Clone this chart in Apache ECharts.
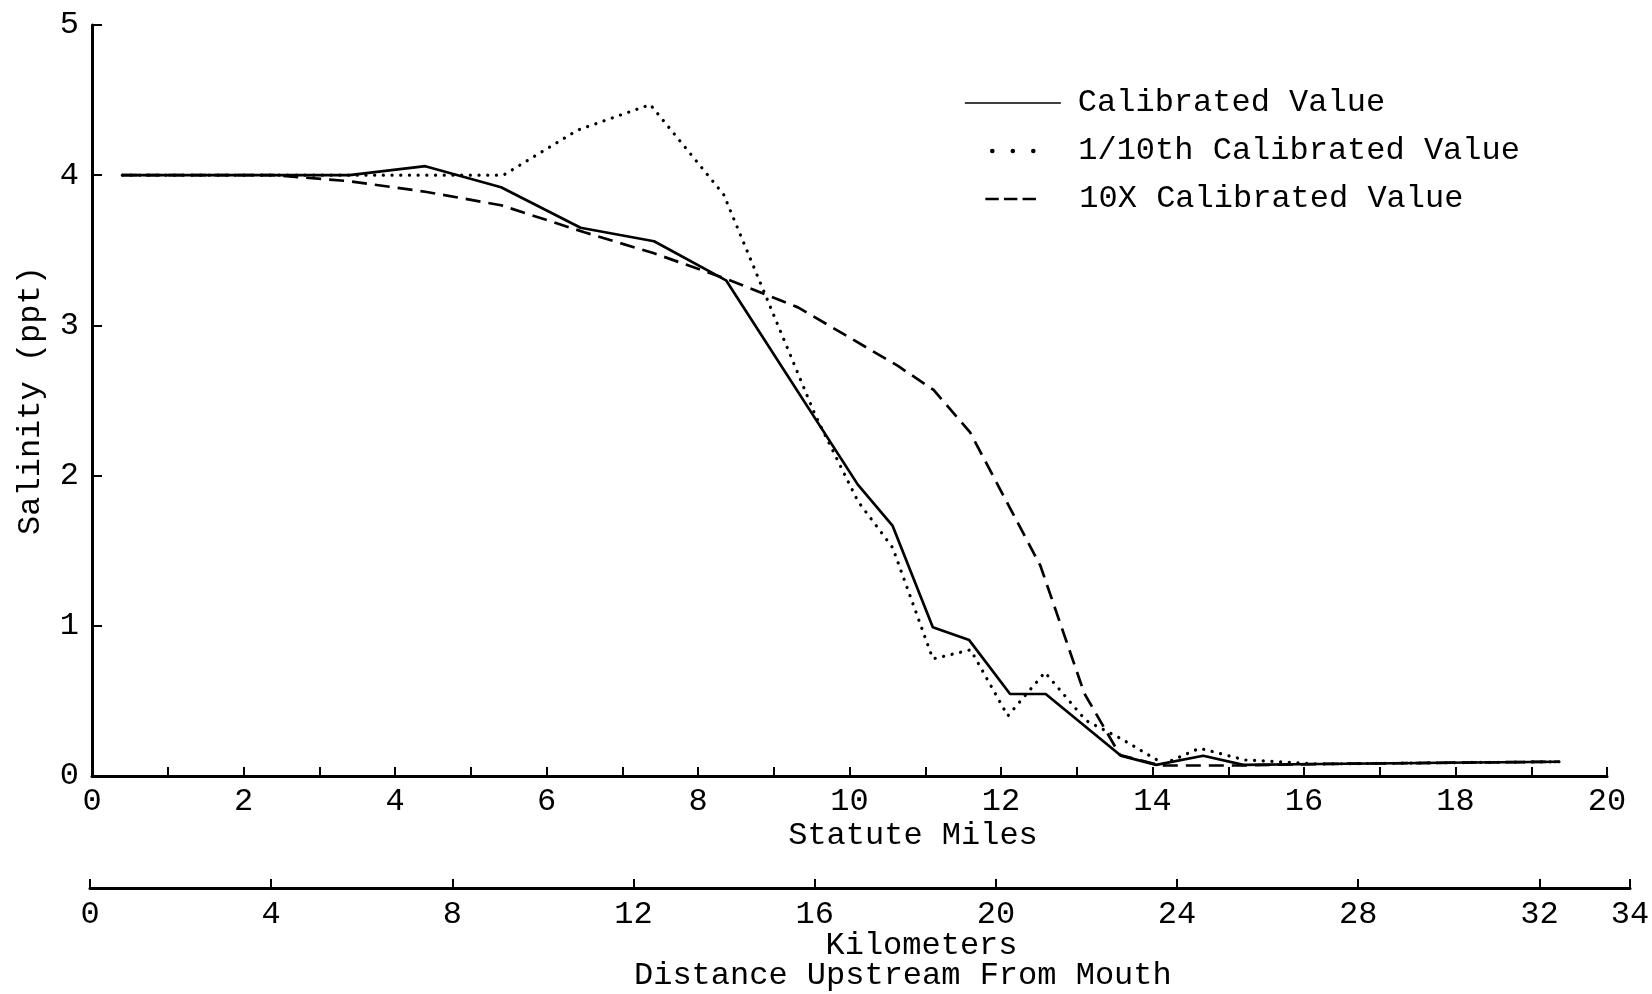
<!DOCTYPE html>
<html>
<head>
<meta charset="utf-8">
<script src="https://cdn.jsdelivr.net/npm/echarts@6/dist/echarts.min.js"></script>
<style>
html,body{margin:0;padding:0;background:#fff;}
#chart{width:1652px;height:994px;}
</style>
</head>
<body>
<div id="chart"></div>
<script>
// ---------- data ----------
const seriesNames = ['Calibrated Value', '1/10th Calibrated Value', '10X Calibrated Value'];

// Calibrated Value (solid)
const calMiles    = [0.4, 1.4, 2.4, 3.4, 4.4, 5.4, 6.45, 7.42, 8.37, 10.11, 10.57, 11.1, 11.58, 12.12, 12.59, 13.58, 14.05, 14.67, 15.2, 16.2, 17.2, 18.2, 19.37];
const calSalinity = [4.0, 4.0, 4.0, 4.0, 4.06, 3.92, 3.65, 3.56, 3.30, 1.94, 1.665, 0.99, 0.905, 0.546, 0.546, 0.136, 0.074, 0.135, 0.074, 0.08, 0.085, 0.09, 0.095];

// 1/10th Calibrated Value (dotted)
const tenthMiles    = [0.4, 1.4, 2.4, 3.4, 4.4, 5.43, 6.41, 7.37, 8.34, 9.55, 10.11, 10.57, 11.1, 11.6, 12.09, 12.58, 13.12, 13.58, 14.15, 14.62, 15.22, 16.2, 17.2, 18.2, 19.37];
const tenthSalinity = [4.0, 4.0, 4.0, 4.0, 4.0, 4.0, 4.30, 4.47, 3.87, 2.40, 1.83, 1.52, 0.78, 0.84, 0.40, 0.69, 0.37, 0.25, 0.08, 0.185, 0.107, 0.08, 0.085, 0.09, 0.095];

// 10X Calibrated Value (dashed)
const tenXMiles    = [0.4, 1.4, 2.4, 3.4, 4.4, 5.4, 6.5, 7.42, 8.37, 9.32, 9.93, 10.64, 11.11, 11.59, 12.52, 13.1, 13.57, 14.1, 15.1, 16.2, 17.2, 18.2, 19.37];
const tenXSalinity = [4.0, 4.0, 4.0, 3.96, 3.89, 3.80, 3.62, 3.48, 3.31, 3.12, 2.94, 2.73, 2.57, 2.29, 1.40, 0.55, 0.14, 0.07, 0.07, 0.08, 0.085, 0.09, 0.095];

// axes / tick labels
const milesRange = [0, 20];   const milesTickStep = 1; const milesLabelStep = 2;
const kmRange = [0, 34];      const kmTickStep = 4;
const salinityRange = [0, 5]; const salinityStep = 1;
const xAxisTitle = 'Statute Miles';
const kmAxisTitle = 'Kilometers';
const bottomTitle = 'Distance Upstream From Mouth';
const yAxisTitle = 'Salinity (ppt)';

// ---------- chart ----------
const FONT = '"Liberation Mono", "DejaVu Sans Mono", monospace';
const FS = 32;
const INK = '#000';
const zip = (xs, ys) => xs.map((x, i) => [x, ys[i]]);

const txt = (extra) => Object.assign({fontFamily: FONT, fontSize: FS, color: INK, fontWeight: 'normal'}, extra || {});

const chart = echarts.init(document.getElementById('chart'), null, {renderer: 'canvas'});

const option = {
  animation: false,
  backgroundColor: '#fff',
  title: {
    text: bottomTitle,
    left: 634, top: 960, padding: 0,
    textStyle: txt()
  },
  legend: [
    {
      data: [seriesNames[0]], left: 964, top: 87, padding: 0, selectedMode: false,
      itemWidth: 96, itemHeight: 14,
      textStyle: txt({padding: [0, 0, 0, 12]}),
      lineStyle: {color: INK, width: 1.7, type: 'solid'},
      itemStyle: {opacity: 0}
    },
    {
      data: [seriesNames[1]], left: 990, top: 135, padding: 0, selectedMode: false,
      itemWidth: 42, itemHeight: 14,
      textStyle: txt({padding: [0, 0, 14, 39]}),
      lineStyle: {color: INK, width: 4.5, type: [0.1, 20.4], cap: 'round'},
      itemStyle: {opacity: 0}
    },
    {
      data: [seriesNames[2]], left: 984, top: 183, padding: 0, selectedMode: false,
      itemWidth: 51, itemHeight: 14,
      textStyle: txt({padding: [0, 0, 0, 38]}),
      lineStyle: {color: INK, width: 2.7, type: [13.4, 5.2]},
      itemStyle: {opacity: 0}
    }
  ],
  grid: [
    {left: 92, top: 25, width: 1515, height: 751, containLabel: false, outerBoundsMode: 'none'},
    {left: 90, top: 800, width: 1540, height: 88, containLabel: false, outerBoundsMode: 'none'}
  ],
  xAxis: [
    {
      gridIndex: 0, type: 'value', min: milesRange[0], max: milesRange[1], interval: milesTickStep,
      axisLine: {show: true, onZero: false, lineStyle: {color: INK, width: 3}},
      axisTick: {show: true, inside: true, length: 9, lineStyle: {color: INK, width: 2}},
      axisLabel: txt({margin: 10, formatter: v => (v % milesLabelStep === 0 ? String(v) : '')}),
      splitLine: {show: false},
      name: xAxisTitle, nameLocation: 'middle', nameGap: 44, nameMoveOverlap: false,
      nameTextStyle: txt({padding: [0, 0, 0, 127]})
    },
    {
      gridIndex: 1, type: 'value', min: kmRange[0], max: kmRange[1], interval: kmTickStep,
      axisLine: {show: true, onZero: false, lineStyle: {color: INK, width: 3}},
      axisTick: {show: true, inside: true, length: 9, lineStyle: {color: INK, width: 2}},
      axisLabel: txt({margin: 11, showMaxLabel: true}),
      splitLine: {show: false},
      name: kmAxisTitle, nameLocation: 'middle', nameGap: 42, nameMoveOverlap: false,
      nameTextStyle: txt({padding: [0, 0, 0, 123]})
    }
  ],
  yAxis: [
    {
      gridIndex: 0, type: 'value', min: salinityRange[0], max: salinityRange[1], interval: salinityStep,
      axisLine: {show: true, onZero: false, lineStyle: {color: INK, width: 3}},
      axisTick: {show: true, inside: true, length: 10, lineStyle: {color: INK, width: 2}},
      axisLabel: txt({margin: 13}),
      splitLine: {show: false},
      name: yAxisTitle, nameLocation: 'middle', nameGap: 45, nameMoveOverlap: false,
      nameTextStyle: txt()
    },
    {gridIndex: 1, type: 'value', show: false, min: 0, max: 1}
  ],
  series: [
    {
      name: seriesNames[1], type: 'line', xAxisIndex: 0, yAxisIndex: 0,
      data: zip(tenthMiles, tenthSalinity), symbol: 'none', z: 2,
      lineStyle: {color: INK, width: 3.2, type: [0.1, 8.6], cap: 'round'}
    },
    {
      name: seriesNames[2], type: 'line', xAxisIndex: 0, yAxisIndex: 0,
      data: zip(tenXMiles, tenXSalinity), symbol: 'none', z: 2,
      lineStyle: {color: INK, width: 2.7, type: [15, 8]}
    },
    {
      name: seriesNames[0], type: 'line', xAxisIndex: 0, yAxisIndex: 0,
      data: zip(calMiles, calSalinity), symbol: 'none', z: 3,
      lineStyle: {color: INK, width: 2.7}
    }
  ]
};
chart.setOption(option);
</script>
</body>
</html>
